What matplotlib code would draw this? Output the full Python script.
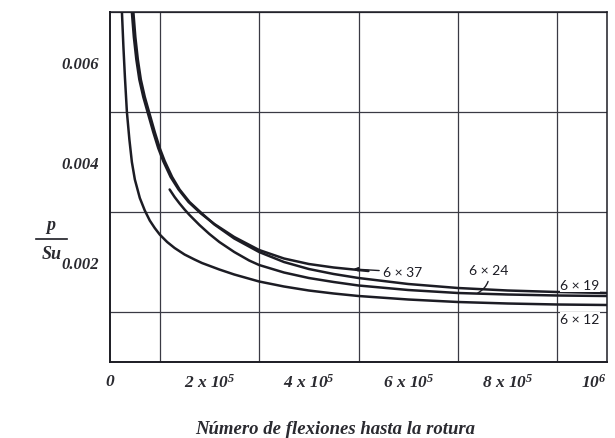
import matplotlib
matplotlib.use("Agg")
import matplotlib.pyplot as plt
from matplotlib.lines import Line2D
from matplotlib.ticker import MultipleLocator

# values (N in units of 1e5, p/Su in units of 1e-3)
n_6x12 = [0.24, 0.27, 0.3, 0.34, 0.39, 0.44, 0.5, 0.6, 0.7, 0.8, 0.9, 1.0, 1.15, 1.3, 1.5,
          1.7, 1.85, 2.2, 2.5, 3.0, 3.5, 4.0, 4.5, 5.0, 6.0, 7.0, 8.0, 9.0, 10.0]
p_6x12 = [7.0, 6.3, 5.7, 5.0, 4.45, 4.0, 3.65, 3.28, 3.03, 2.83, 2.68, 2.55, 2.4, 2.28, 2.15,
          2.05, 1.98, 1.85, 1.75, 1.61, 1.51, 1.43, 1.37, 1.32, 1.25, 1.2, 1.17, 1.15, 1.14]

n_6x19 = [0.47, 0.51, 0.56, 0.62, 0.7, 0.8, 0.9, 1.0, 1.1, 1.25, 1.4, 1.6, 1.85, 2.1, 2.5,
          3.0, 3.5, 4.0, 4.5, 5.0, 6.0, 7.0, 8.0, 9.0, 10.0]
p_6x19 = [7.0, 6.5, 6.05, 5.65, 5.3, 4.95, 4.6, 4.28, 4.02, 3.7, 3.45, 3.2, 2.97, 2.75, 2.47,
          2.2, 2.0, 1.86, 1.76, 1.68, 1.56, 1.48, 1.43, 1.4, 1.38]

n_6x37 = [0.44, 0.48, 0.53, 0.59, 0.67, 0.77, 0.87, 0.97, 1.07, 1.22, 1.38, 1.58, 1.83, 2.1,
          2.5, 3.0, 3.5, 4.0, 4.5, 5.2]
p_6x37 = [7.0, 6.5, 6.05, 5.65, 5.3, 4.95, 4.6, 4.28, 4.02, 3.7, 3.45, 3.2, 2.97, 2.76,
          2.5, 2.24, 2.07, 1.96, 1.89, 1.82]

n_6x24 = [1.2, 1.3, 1.4, 1.5, 1.6, 1.8, 2.0, 2.2, 2.5, 2.8, 3.0, 3.5, 4.0, 4.5, 5.0, 6.0,
          7.0, 8.0, 9.0, 10.0]
p_6x24 = [3.45, 3.3, 3.17, 3.05, 2.94, 2.74, 2.56, 2.4, 2.2, 2.03, 1.94, 1.79, 1.68, 1.6,
          1.53, 1.44, 1.38, 1.35, 1.33, 1.32]

xtick_pos = [0, 2, 4, 6, 8, 10]
xtick_labels = ['0', r'2 x $10^{5}$', r'4 x $10^{5}$', r'6 x $10^{5}$', r'8 x $10^{5}$', r'$10^{6}$']
ytick_pos = [2, 4, 6]
ytick_labels = ['0.002', '0.004', '0.006']

serif = 'Liberation Serif'
plt.rcParams['mathtext.fontset'] = 'custom'
plt.rcParams['mathtext.rm'] = 'Liberation Serif:italic:bold'
plt.rcParams['mathtext.it'] = 'Liberation Serif:italic:bold'

ink = '#1c1c24'

fig = plt.figure(figsize=(6.15, 4.39), dpi=100)
ax = fig.add_axes([110 / 615, 1 - 363 / 439, 497 / 615, 350 / 439])
ax.set_xlim(0, 10)
ax.set_ylim(0, 7)

# grid every 1e5 and every 0.001
ax.xaxis.set_minor_locator(MultipleLocator(1))
ax.yaxis.set_minor_locator(MultipleLocator(1))
ax.grid(which='minor', color='#3a3a44', lw=0.9)
ax.set_axisbelow(True)
ax.tick_params(which='both', length=0)

ax.set_xticks(xtick_pos)
ax.set_xticklabels(xtick_labels, fontfamily=serif, fontstyle='italic',
                   fontweight='bold', fontsize=12.5, color='#2a2a30')
ax.get_xticklabels()[-1].set_horizontalalignment('right')
ax.tick_params(axis='x', pad=8)
ax.set_yticks(ytick_pos)
ax.set_yticklabels(ytick_labels, fontfamily=serif, fontstyle='italic',
                   fontweight='bold', fontsize=12, color='#2a2a30')
ax.tick_params(axis='y', pad=8)

for side, sp in ax.spines.items():
    sp.set_color(ink)
    sp.set_linewidth(1.4 if side in ('left', 'bottom') else 1.1)

# curves
for n, p in [(n_6x12, p_6x12), (n_6x19, p_6x19), (n_6x37, p_6x37), (n_6x24, p_6x24)]:
    ax.plot(n, p, color=ink, lw=1.8, solid_capstyle='round', solid_joinstyle='round')

lab = dict(fontfamily='Lato', fontsize=10, color=ink)
ax.annotate('6 × 37', xy=(n_6x37[-1] - 0.3, p_6x37[-1] + 0.04), xytext=(5.5, 1.8),
            ha='left', va='center',
            arrowprops=dict(arrowstyle='-|>', color=ink, lw=1.0, mutation_scale=6,
                            shrinkA=1, shrinkB=0), **lab)
ax.annotate('6 × 24', xy=(7.4, 1.38), xytext=(7.62, 1.84),
            ha='center', va='center',
            bbox=dict(boxstyle='square,pad=0.1', fc='white', ec='none'),
            arrowprops=dict(arrowstyle='-', color=ink, lw=1.0,
                            connectionstyle='arc3,rad=-0.35', shrinkA=3, shrinkB=0), **lab)
ax.text(9.06, 1.53, '6 × 19', ha='left', va='center',
        bbox=dict(boxstyle='square,pad=0.05', fc='white', ec='none'), **lab)
ax.text(9.06, 0.86, '6 × 12', ha='left', va='center',
        bbox=dict(boxstyle='square,pad=0.05', fc='white', ec='none'), **lab)

# axis titles
txt = dict(fontfamily=serif, fontstyle='italic', fontweight='bold', color='#2a2a30')
fig.text(335 / 615, 1 - 430 / 439, 'Número de flexiones hasta la rotura',
         ha='center', va='center', fontsize=13.5, **txt)
fig.text(51 / 615, 1 - 226 / 439, 'p', ha='center', va='center', fontsize=13, **txt)
fig.text(52 / 615, 1 - 255 / 439, 'Su', ha='center', va='center', fontsize=13, **txt)
fig.add_artist(Line2D([36 / 615, 67 / 615], [1 - 240 / 439, 1 - 240 / 439],
                      color=ink, lw=1.2, transform=fig.transFigure))

fig.savefig('out.png', dpi=100, facecolor='white')
